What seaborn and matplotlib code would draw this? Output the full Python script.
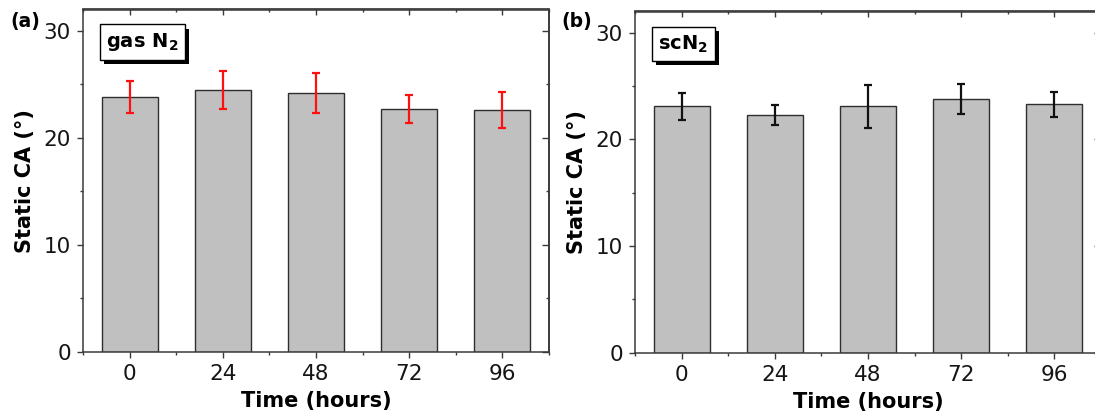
import numpy as np
import pandas as pd
import matplotlib
matplotlib.use("Agg")
import matplotlib.pyplot as plt
import matplotlib.patheffects as pe
import seaborn as sns

# ---- data ----
times = ["0", "24", "48", "72", "96"]
gas_ca = [23.8, 24.5, 24.2, 22.7, 22.6]
gas_err = [1.5, 1.75, 1.85, 1.3, 1.7]
sc_ca = [23.1, 22.3, 23.1, 23.8, 23.3]
sc_err = [1.3, 0.9, 2.05, 1.4, 1.15]
panel_labels = ["(a)", "(b)"]
box_labels = [r"gas N$_\mathbf{2}$", r"scN$_\mathbf{2}$"]
err_colors = ["#ff1010", "#111111"]
yticks = [0, 10, 20, 30]

sns.set_theme(style="ticks")
plt.rcParams["font.family"] = ["DejaVu Sans"]
plt.rcParams["mathtext.default"] = "bf"
plt.rcParams["text.color"] = "black"
plt.rcParams["axes.labelcolor"] = "black"

W, H = 1095, 418
fig = plt.figure(figsize=(W / 100, H / 100), dpi=100)

axes_px = [(83, 9.5, 352), (635, 11.5, 352.7)]
spine_c = "#3a3a3a"

for i, (vals, errs) in enumerate([(gas_ca, gas_err), (sc_ca, sc_err)]):
    left, top, bottom = axes_px[i]
    ax = fig.add_axes([left / W, (H - bottom) / H, 466 / W, (bottom - top) / H])
    df = pd.DataFrame({"Time": times, "CA": vals})
    sns.barplot(data=df, x="Time", y="CA", ax=ax, color="#c0c0c0", saturation=1,
                width=0.6, edgecolor="#2e2e2e", linewidth=1.0, errorbar=None)
    ax.errorbar(np.arange(len(times)), vals, yerr=errs, fmt="none",
                ecolor=err_colors[i], elinewidth=1.6, capsize=3.2, capthick=1.6, zorder=5)
    ax.set_xlim(-0.5, len(times) - 0.5)
    ax.set_ylim(0, 32)
    ax.set_yticks(yticks)
    ax.set_yticks([5, 15, 25], minor=True)
    ax.set_xticks(range(len(times)))
    ax.set_xticklabels(times)
    ax.set_xticks(np.arange(-0.5, len(times), 1.0), minor=True)
    for s in ax.spines.values():
        s.set_visible(True)
        s.set_color(spine_c)
        s.set_linewidth(1.1)
    ax.tick_params(which="major", direction="out", length=4.3, width=1.0, color=spine_c,
                   labelsize=15.5, pad=4.5, labelcolor="#151515")
    ax.tick_params(which="minor", direction="out", length=2.5, width=1.0, color=spine_c)
    secx = ax.secondary_xaxis("top")
    secx.set_xticks(range(len(times)))
    secx.set_xticks(np.arange(-0.5, len(times), 1.0), minor=True)
    secx.tick_params(which="major", direction="in", length=4.3, width=1.0, color=spine_c, labeltop=False)
    secx.tick_params(which="minor", direction="in", length=2.5, width=1.0, color=spine_c)
    secx.spines["top"].set_color(spine_c)
    secy = ax.secondary_yaxis("right")
    secy.set_yticks(yticks)
    secy.set_yticks([5, 15, 25], minor=True)
    secy.tick_params(which="major", direction="in", length=5, width=1.0, color=spine_c, labelright=False)
    secy.tick_params(which="minor", direction="in", length=2.5, width=1.0, color=spine_c)
    secy.spines["right"].set_color(spine_c)
    ax.set_xlabel("Time (hours)", fontsize=15, fontweight="bold", labelpad=5)
    ax.set_ylabel("Static CA (°)", fontsize=15, fontweight="bold", labelpad=6)

    t = ax.text(0.05, 0.905, box_labels[i], transform=ax.transAxes, fontsize=14,
                fontweight="bold", va="center", ha="left",
                bbox=dict(boxstyle="square,pad=0.34", fc="white", ec="black", lw=1.0))
    t.get_bbox_patch().set_path_effects([
        pe.SimplePatchShadow(offset=(3, -3), shadow_rgbFace="black", alpha=1.0),
        pe.Normal()])

    fig.text((10 if i == 0 else 561) / W, 1 - 21 / H, panel_labels[i], fontsize=13.5,
             fontweight="bold", va="center", ha="left")

fig.savefig("out.png", dpi=100)
